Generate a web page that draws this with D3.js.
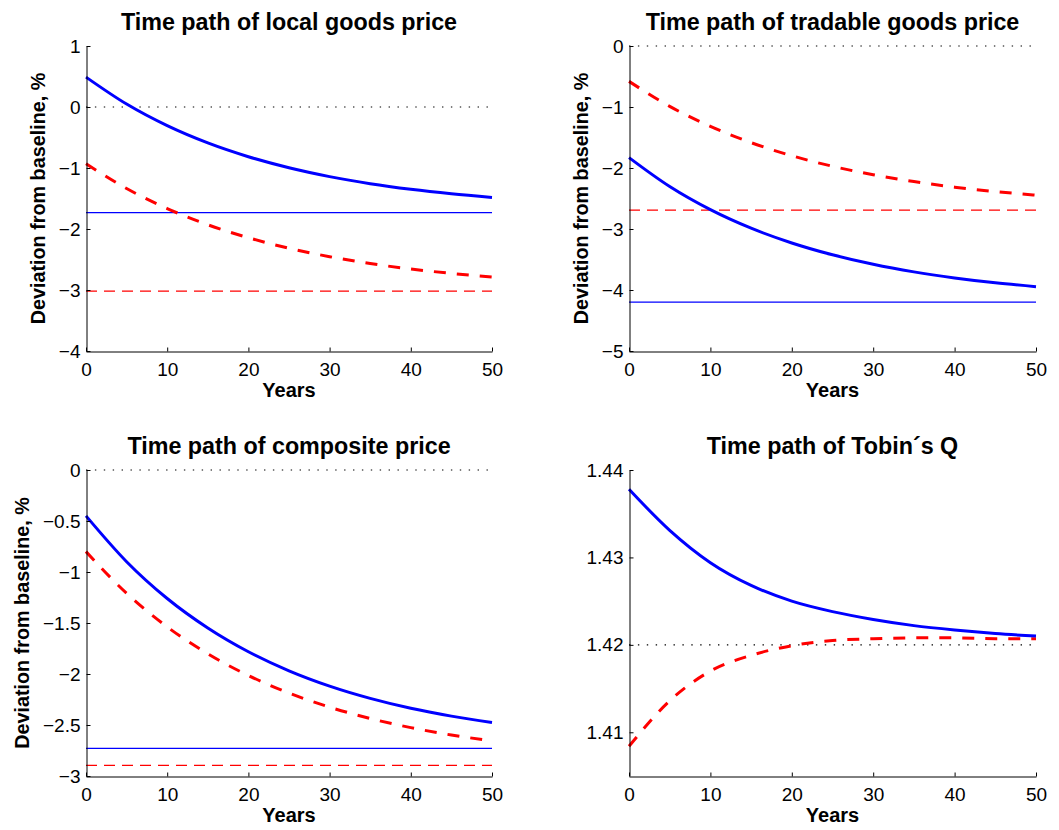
<!DOCTYPE html>
<html>
<head>
<meta charset="utf-8">
<script src="https://cdn.jsdelivr.net/npm/d3@7"></script>
<style>
  body { margin: 0; background: #fff; }
  svg text { font-family: "Liberation Sans", Arial, Helvetica, sans-serif; }
</style>
</head>
<body>
<svg id="chart" width="1059" height="830"></svg>
<script>
// years on the x axis (every 5 years)
var years = [0, 5, 10, 15, 20, 25, 30, 35, 40, 45, 50];

// panel titles
var titles = [
    "Time path of local goods price",
    "Time path of tradable goods price",
    "Time path of composite price",
    "Time path of Tobin\u00b4s Q"
];

// blue solid paths
var blueLocal     = [0.49, 0.048, -0.306, -0.589, -0.815, -0.996, -1.141, -1.257, -1.349, -1.423, -1.483];
var blueTradable  = [-1.83, -2.304, -2.683, -2.987, -3.229, -3.423, -3.579, -3.703, -3.802, -3.882, -3.946];
var blueComposite = [-0.45, -0.899, -1.260, -1.549, -1.782, -1.969, -2.119, -2.239, -2.336, -2.413, -2.476];
var blueTobin     = [1.4378, 1.4331, 1.4294, 1.4268, 1.4250, 1.4238, 1.4229, 1.4222, 1.4217, 1.4213, 1.4210];

// red dashed paths
var redLocal     = [-0.93, -1.337, -1.665, -1.930, -2.143, -2.315, -2.454, -2.566, -2.656, -2.728, -2.787];
var redTradable  = [-0.58, -0.989, -1.318, -1.584, -1.799, -1.972, -2.111, -2.223, -2.314, -2.387, -2.445];
var redComposite = [-0.80, -1.209, -1.538, -1.802, -2.015, -2.187, -2.325, -2.436, -2.526, -2.598, -2.656];
var redTobin     = [1.4084, 1.4136, 1.4170, 1.4188, 1.4199, 1.4205, 1.4207, 1.4208, 1.4208, 1.4207, 1.4207];

// long-run levels (thin lines), null = not drawn
var blueSteady = [-1.73, -4.20, -2.73, null];
var redSteady  = [-3.02, -2.69, -2.895, null];

// dotted reference level
var baseline = [0, 0, 0, 1.42];

// y axis ranges and ticks
var yDomains = [[-4, 1], [-5, 0], [-3, 0], [1.405, 1.44]];
var yTicks = [
    [-4, -3, -2, -1, 0, 1],
    [-5, -4, -3, -2, -1, 0],
    [-3, -2.5, -2, -1.5, -1, -0.5, 0],
    [1.41, 1.42, 1.43, 1.44]
];
var xTicks = [0, 10, 20, 30, 40, 50];

var blueSeries = [blueLocal, blueTradable, blueComposite, blueTobin];
var redSeries = [redLocal, redTradable, redComposite, redTobin];

var svg = d3.select("#chart");

// plot boxes
var boxes = [
    {left: 86, right: 492, top: 46, bottom: 351, ylabel: 48},
    {left: 629, right: 1036, top: 46, bottom: 351, ylabel: 48},
    {left: 86, right: 492, top: 470, bottom: 776, ylabel: 64},
    {left: 629, right: 1036, top: 470, bottom: 776, ylabel: null}
];

var fmtMinus = function(d) {
    var s = d3.format("~g")(d);
    return s.replace("-", "\u2212");
};

boxes.forEach(function(b, i)
{
    var x = d3.scaleLinear().domain([0, 50]).range([b.left, b.right]);
    var y = d3.scaleLinear().domain(yDomains[i]).range([b.bottom, b.top]);
    var g = svg.append("g");

    var line = d3.line()
        .x(function(d) { return x(d[0]); })
        .y(function(d) { return y(d[1]); })
        .curve(d3.curveMonotoneX);

    // dotted baseline
    g.append("path")
        .attr("d", line([[0, baseline[i]], [50, baseline[i]]]))
        .attr("fill", "none")
        .attr("stroke", "#000")
        .attr("stroke-width", 1.2)
        .attr("stroke-dasharray", "1.4,7.5");

    if (blueSteady[i] !== null)
    {
        g.append("path")
            .attr("d", line([[0, blueSteady[i]], [50, blueSteady[i]]]))
            .attr("fill", "none")
            .attr("stroke", "#0000ff")
            .attr("stroke-width", 1.2);
    }
    if (redSteady[i] !== null)
    {
        g.append("path")
            .attr("d", line([[0, redSteady[i]], [50, redSteady[i]]]))
            .attr("fill", "none")
            .attr("stroke", "#ff0000")
            .attr("stroke-width", 1.2)
            .attr("stroke-dasharray", "11,7");
    }

    g.append("path")
        .attr("d", line(years.map(function(t, k) { return [t, redSeries[i][k]]; })))
        .attr("fill", "none")
        .attr("stroke", "#ff0000")
        .attr("stroke-width", 3)
        .attr("stroke-dasharray", "12,11");

    g.append("path")
        .attr("d", line(years.map(function(t, k) { return [t, blueSeries[i][k]]; })))
        .attr("fill", "none")
        .attr("stroke", "#0000ff")
        .attr("stroke-width", 3);

    // axes, ticks pointing inward, no box
    var xAxis = d3.axisBottom(x).tickValues(xTicks).tickSizeInner(-4).tickSizeOuter(0).tickPadding(11);
    var yAxis = d3.axisLeft(y).tickValues(yTicks[i]).tickSizeInner(-4).tickSizeOuter(0).tickPadding(6)
        .tickFormat(i == 3 ? d3.format(".2f") : fmtMinus);

    var gx = g.append("g")
        .attr("transform", "translate(0," + (b.bottom + 0.5) + ")")
        .call(xAxis);
    var gy = g.append("g")
        .attr("transform", "translate(" + (b.left + 0.5) + ",0)")
        .call(yAxis);

    [gx, gy].forEach(function(a) {
        a.attr("font-size", 19);
        a.selectAll("text").attr("font-size", 19).attr("fill", "#000")
            .style("font-family", "'Liberation Sans', Arial, sans-serif");
        a.selectAll("line").attr("stroke", "#000");
        a.select(".domain").attr("stroke", "#000");
    });

    g.append("text")
        .attr("x", (b.left + b.right) / 2)
        .attr("y", b.top - 16)
        .attr("text-anchor", "middle")
        .attr("font-size", 23.3)
        .attr("font-weight", "bold")
        .text(titles[i]);

    g.append("text")
        .attr("x", (b.left + b.right) / 2)
        .attr("y", b.bottom + 46)
        .attr("text-anchor", "middle")
        .attr("font-size", 20)
        .attr("font-weight", "bold")
        .text("Years");

    if (b.ylabel !== null)
    {
        var cy = (b.top + b.bottom) / 2;
        var cx = b.left - b.ylabel;
        g.append("text")
            .attr("transform", "translate(" + cx + "," + cy + ") rotate(-90)")
            .attr("text-anchor", "middle")
            .attr("dy", "0.35em")
            .attr("font-size", 19.8)
            .attr("font-weight", "bold")
            .text("Deviation from baseline, %");
    }
});
</script>
</body>
</html>
